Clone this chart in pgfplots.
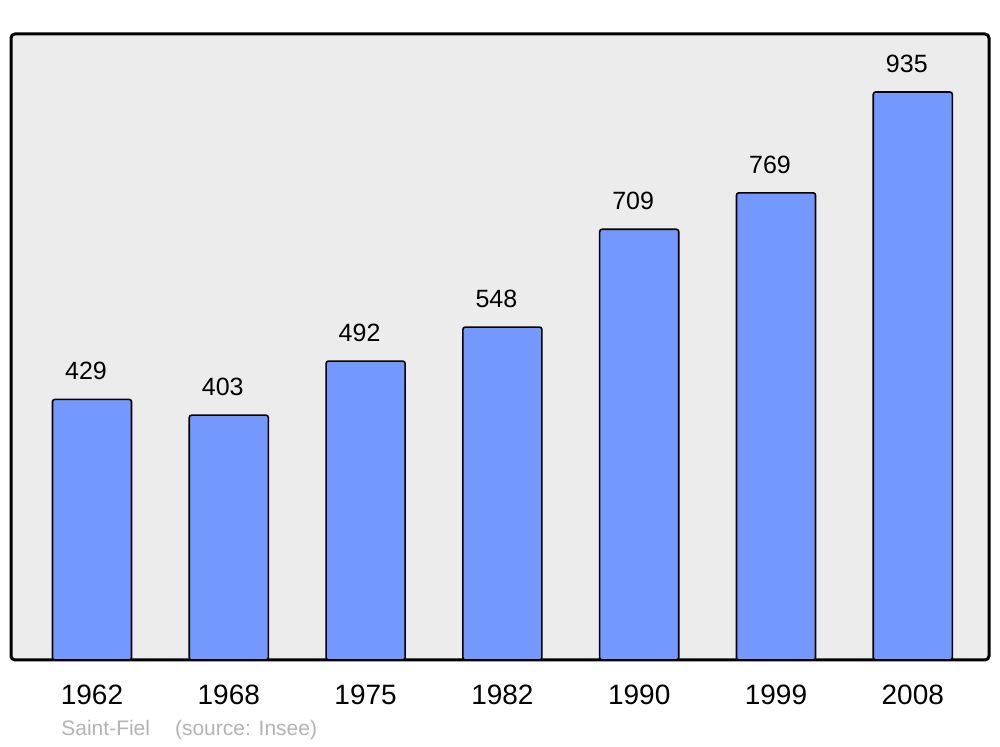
\documentclass[border=0pt]{standalone}
\usepackage{pgfplots}
\pgfplotsset{compat=1.18}
\usepackage{fontspec}
\setmainfont{Liberation Sans}
\definecolor{barblue}{RGB}{115,153,255}
\definecolor{bgg}{RGB}{236,236,236}
\definecolor{srcgray}{RGB}{179,179,179}
\begin{document}
\begin{tikzpicture}
\useasboundingbox (-5.5pt,-43.5pt) rectangle (494.5pt,330pt);
\begin{axis}[
  at={(0pt,0pt)}, anchor=south west,
  scale only axis,
  width=489pt, height=313pt,
  xmin=-0.592, xmax=6.557,
  ymin=0, ymax=1030.5,
  /pgf/number format/assume math mode=true,
  axis background/.style={fill=bgg, rounded corners=2pt},
  axis line style={line width=1.5pt, rounded corners=2pt},
  xtick={0,1,2,3,4,5,6},
  xticklabels={1962,1968,1975,1982,1990,1999,2008},
  xticklabel style={font=\fontsize{14pt}{16pt}\selectfont, anchor=center, yshift=-17.5pt},
  ytick=\empty,
  major tick length=0pt,
  ybar,
  bar width=0.578,
  nodes near coords,
  every node near coord/.append style={font=\fontsize{12.5pt}{14pt}\selectfont, anchor=center, yshift=14pt, xshift=-3pt, text=black},
  clip=false,
]
\addplot[fill=barblue, draw=black, line width=0.8pt, rounded corners=1.2pt] coordinates {
 (0,429) (1,403) (2,492) (3,548) (4,709) (5,769) (6,935)
};
\end{axis}
\node[anchor=west, text=srcgray, font=\fontsize{10.5pt}{12pt}\selectfont, inner sep=0pt] at (25pt,-35pt) {Saint-Fiel\hspace{12.5pt}(source: Insee)};
\end{tikzpicture}
\end{document}
